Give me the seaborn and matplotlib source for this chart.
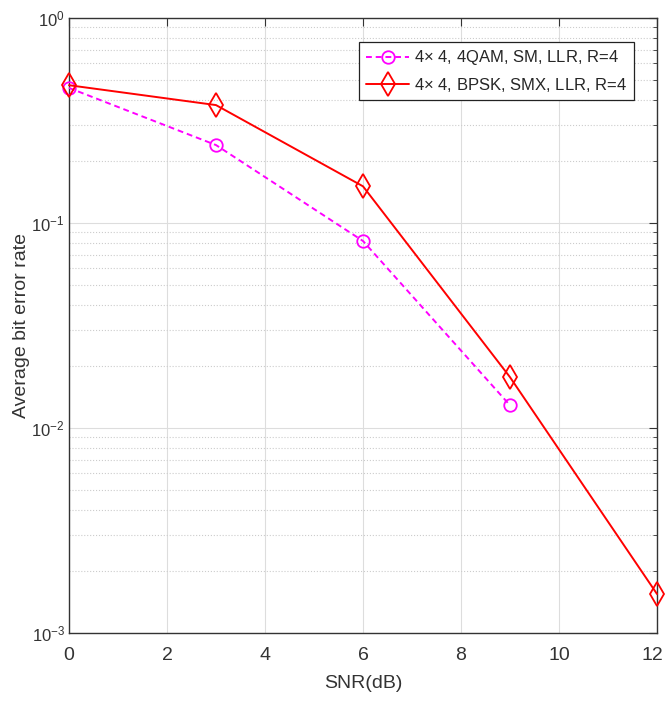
import numpy as np
import pandas as pd
import seaborn as sns
import matplotlib.pyplot as plt
import matplotlib.transforms as mtransforms
from matplotlib.ticker import LogLocator, NullFormatter

# values
snr_sm = [0, 3, 6, 9]
ber_sm = [0.456, 0.24, 0.0817, 0.0129]
snr_smx = [0, 3, 6, 9, 12]
ber_smx = [0.47, 0.376, 0.151, 0.0177, 0.00155]
labels = ['4$\\times$ 4, 4QAM, SM, LLR, R=4', '4$\\times$ 4, BPSK, SMX, LLR, R=4']

df = pd.concat([
    pd.DataFrame({'SNR': snr_sm, 'BER': ber_sm, 'scheme': labels[0]}),
    pd.DataFrame({'SNR': snr_smx, 'BER': ber_smx, 'scheme': labels[1]}),
])

sns.set_style('white')
plt.rcParams['font.family'] = ['Liberation Sans', 'DejaVu Sans']
plt.rcParams['mathtext.fontset'] = 'custom'
plt.rcParams['mathtext.rm'] = 'Liberation Sans'

fig = plt.figure(figsize=(6.66, 7.08), dpi=100)
ax = fig.add_axes([69 / 666, 1 - 633 / 708, (657 - 69) / 666, (633 - 18) / 708])

sns.lineplot(data=df, x='SNR', y='BER', hue='scheme', style='scheme',
             palette=['magenta', 'red'], dashes=[(3, 2), ''], markers=['o', 'd'],
             markersize=9, markerfacecolor='none', markeredgewidth=1.3,
             linewidth=1.4, ax=ax)
for line, mc, ms in zip(ax.lines, ['magenta', 'red'], [9, 12]):
    line.set_markeredgecolor(mc)
    line.set_markersize(ms)
    line.set_clip_on(False)
    line.set_zorder(5)

ax.set_yscale('log')
ax.set_xlim(0, 12)
ax.set_ylim(1e-3, 1)
ax.set_xticks(range(0, 13, 2))
ax.yaxis.set_major_locator(LogLocator(base=10, numticks=10))
ax.yaxis.set_minor_locator(LogLocator(base=10, subs=np.arange(2, 10), numticks=20))
ax.yaxis.set_minor_formatter(NullFormatter())

ax.grid(True, which='major', color='#dddddd', linewidth=0.8)
ax.grid(True, which='minor', axis='y', color='#cccccc', linestyle=':', linewidth=0.8)
ax.tick_params(which='both', direction='in', top=True, right=True, colors='#333333')
ax.tick_params(axis='x', which='major', pad=10, labelsize=14)
ax.tick_params(axis='y', which='major', pad=3, labelsize=12)
ax.tick_params(which='major', length=6)
ax.tick_params(which='minor', length=3)
for s in ax.spines.values():
    s.set_visible(True)
    s.set_color('#333333')
    s.set_linewidth(1.0)

# keep the last x tick label inside the canvas
fig.canvas.draw()
last = ax.get_xticklabels()[-1]
last.set_transform(last.get_transform() + mtransforms.ScaledTranslation(-5 / 100, 0, fig.dpi_scale_trans))

ax.set_xlabel('SNR(dB)', fontsize=14, color='#333333', labelpad=8)
ax.set_ylabel('Average bit error rate', fontsize=14, color='#333333')
ax.yaxis.set_label_coords(-0.066, 0.5)

leg = ax.legend(loc='upper right', bbox_to_anchor=(0.975, 0.975), fontsize=12,
                frameon=True, fancybox=False, edgecolor='#222222', framealpha=1,
                handlelength=2.6, handletextpad=0.3, borderpad=0.4, labelspacing=0.5)
leg.get_frame().set_linewidth(0.9)
for h, mc, ms in zip(leg.get_lines(), ['magenta', 'red'], [9, 12]):
    h.set_markeredgecolor(mc)
    h.set_markerfacecolor('none')
    h.set_markersize(ms)

fig.savefig('out.png', dpi=100)
